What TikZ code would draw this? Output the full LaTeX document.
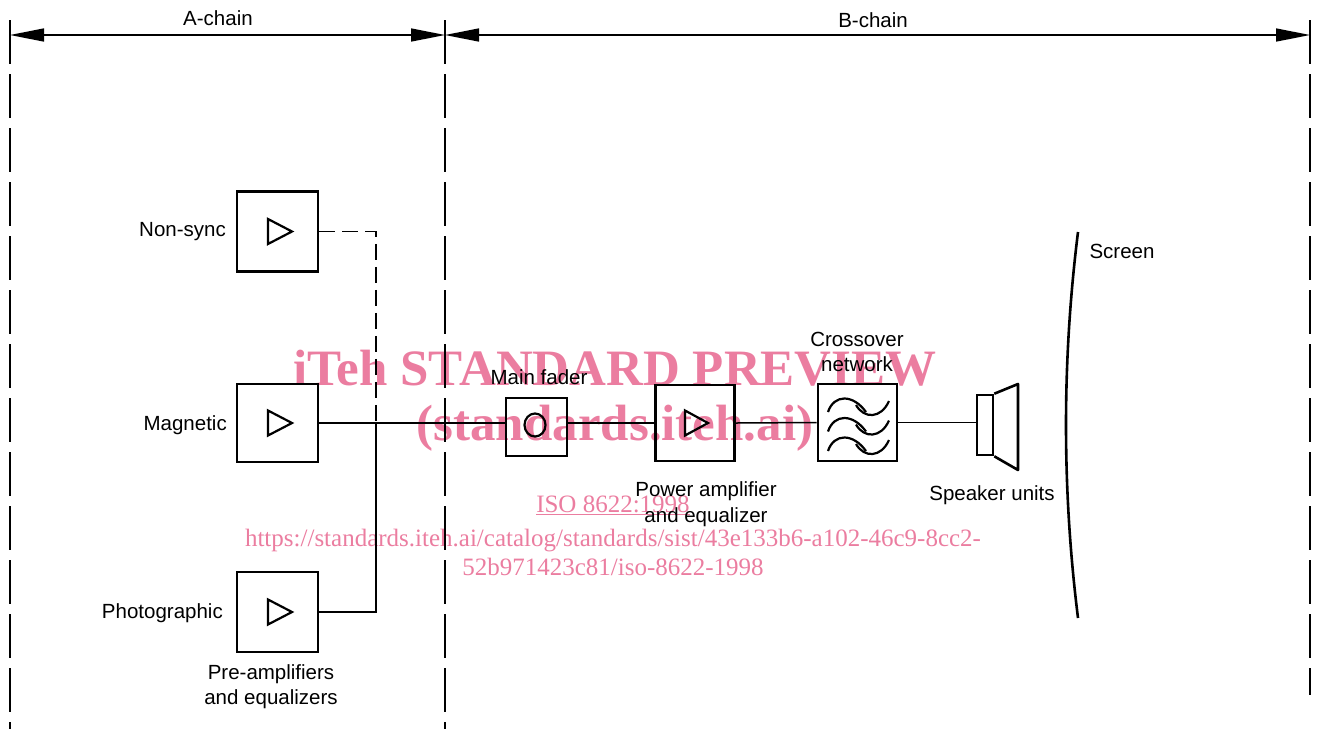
\documentclass[tikz,border=0pt]{standalone}
\usepackage{fontspec}
\setmainfont{Liberation Sans}
\newfontfamily\wmfont{Liberation Serif}
\usetikzlibrary{arrows.meta,calc}
\definecolor{wmpink}{RGB}{235,125,160}
\tikzset{
  box/.style={draw, line width=2.8pt, inner sep=0pt},
  symline/.style={line width=2.2pt, line join=miter},
  conn/.style={line width=1.5pt},
  dconn/.style={line width=1.5pt, dash pattern=on 16pt off 7pt},
  border/.style={line width=2.6pt, dash pattern=on 44pt off 10pt},
  dimline/.style={line width=1.6pt},
  tipL/.style={{Triangle[length=34pt,width=13pt]}-},
  tipR/.style={-{Triangle[length=34pt,width=13pt]}},
  lbl/.style={font=\fontsize{20.5}{24}\selectfont, inner sep=0pt},
  wave/.style={line width=2.2pt},
  wmbig/.style={font=\wmfont\bfseries\fontsize{51}{56}\selectfont, text=wmpink, inner sep=0pt},
  wmsmall/.style={font=\wmfont\fontsize{25}{29}\selectfont, text=wmpink, inner sep=0pt},
}
\begin{document}
\begin{tikzpicture}[x=1pt,y=-1pt]
\useasboundingbox (0,0) rectangle (1319,729);
% watermark
\node[wmbig, anchor=base] (wm1) at (615,385) {iTeh STANDARD PREVIEW};
\node[wmbig, anchor=base] (wm2) at (615,440) {(standards.iteh.ai)};
\node[wmsmall, anchor=base] (wm3) at (613,512) {\underline{ISO 8622:1998}};
\node[wmsmall, anchor=base] (wm4) at (613,546) {https://standards.iteh.ai/catalog/standards/sist/43e133b6-a102-46c9-8cc2-};
\node[wmsmall, anchor=base] (wm5) at (613,575) {52b971423c81/iso-8622-1998};

% borders
\coordinate (bLt) at (10,20);  \coordinate (bLb) at (10,729);
\coordinate (bMt) at (445,20); \coordinate (bMb) at (445,729);
\coordinate (bRt) at (1310,20); \coordinate (bRb) at (1310,695);
\draw[border] (bLt) -- (bLb);
\draw[border] (bMt) -- (bMb);
\draw[border] (bRt) -- (bRb);
\coordinate (aL) at (10,35); \coordinate (aM) at (445,35); \coordinate (aR) at (1310,35);
\draw[dimline, tipL] (aL) -- ($(aL)!0.5!(aM)$);
\draw[dimline, tipR] ($(aL)!0.5!(aM)$) -- (aM);
\draw[dimline, tipL] (aM) -- ($(aM)!0.5!(aR)$);
\draw[dimline, tipR] ($(aM)!0.5!(aR)$) -- (aR);
\node[lbl, anchor=base] (achain) at (218,25) {A-chain};
\node[lbl, anchor=base] (bchain) at (873,27) {B-chain};

% A-chain boxes
\node[box, minimum width=81pt, minimum height=80pt] (ns) at (277.5,231.5) {};
\node[box, minimum width=81pt, minimum height=78pt] (mag) at (277.5,423) {};
\node[box, minimum width=81pt, minimum height=80pt] (ph) at (277.5,612) {};
\foreach \b in {ns,mag,ph}{
  \draw[symline] ([shift={(-9.5,-12.5)}]\b.center) -- ++(24,12.5) -- ++(-24,12.5) -- cycle;
}
\node[lbl, anchor=base east] (lns) at (226,236) {Non-sync};
\node[lbl, anchor=base east] (lmag) at (227,430) {Magnetic};
\node[lbl, anchor=base east] (lph) at (223,618) {Photographic};
\node[lbl, anchor=base] (lpre1) at (271,679) {Pre-amplifiers};
\node[lbl, anchor=base] (lpre2) at (271,704) {and equalizers};

% B-chain
\node[box, minimum width=61pt, minimum height=58pt] (fader) at (536.5,427) {};
\draw[symline] (535,425) circle[x radius=10.5, y radius=11.5];
\node[lbl, anchor=base] (lfader) at (539,384) {Main fader};
\node[box, minimum width=79pt, minimum height=76pt] (pa) at (695,423) {};
\draw[symline] ([shift={(-10,-12.5)}]pa.center) -- ++(23,12.5) -- ++(-23,12.5) -- cycle;
\node[lbl, anchor=base] (lpa1) at (706,496) {Power amplifier};
\node[lbl, anchor=base] (lpa2) at (706,522) {and equalizer};
\node[box, minimum width=79pt, minimum height=77pt] (xo) at (857.5,422.5) {};
\foreach \cy in {408,427.5,447}{
  \draw[wave] (828,\cy+4) .. controls (834,\cy-14) and (853,\cy-14) .. (866,\cy+4);
  \draw[wave] (856,\cy-3) .. controls (864,\cy+11) and (881,\cy+11) .. (889,\cy-7);
}
\node[lbl, anchor=base] (lxo1) at (857,346) {Crossover};
\node[lbl, anchor=base] (lxo2) at (857,371) {network};
\node[box, line width=2.6pt, minimum width=16pt, minimum height=60pt] (spk) at (985,425) {};
\coordinate (coneT) at (1018,384);
\coordinate (coneB) at (1018,470);
\draw[line width=2.6pt, line join=round] (spk.north east) -- (coneT) -- (coneB) -- (spk.south east);
\node[lbl, anchor=base] (lspk) at (992,500) {Speaker units};

% screen
\coordinate (scrT) at (1078,232);
\coordinate (scrB) at (1078,618);
\draw[line width=2.6pt] (scrT) .. controls (1062,360) and (1062,490) .. (scrB);
\node[lbl, anchor=base] (lscr) at (1122,258) {Screen};

% connectors
\coordinate (J) at (376,423);
\coordinate (Jt) at (376,231.5);
\draw[dconn] (ns.east) -- (Jt) -- (J);
\draw[conn] (J) -- (J |- ph.east) -- (ph.east);
\draw[conn] (mag.east) -- (mag.east -| fader.west);
\draw[conn] (fader.east |- mag.east) -- (pa.west);
\draw[conn] (pa.east) -- (xo.west);
\draw[conn] (xo.east) -- (xo.east -| spk.west);
\end{tikzpicture}
\end{document}
